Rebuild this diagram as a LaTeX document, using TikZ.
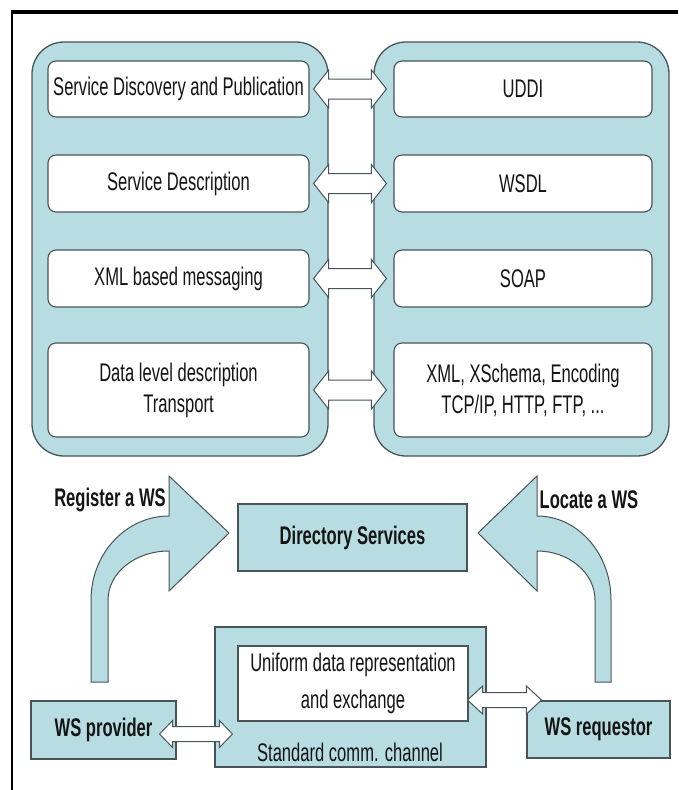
\documentclass[tikz,border=0pt]{standalone}
\usepackage{fontspec}
\setmainfont{Liberation Sans}[FakeStretch=0.65]
\usetikzlibrary{calc}

\definecolor{tealfill}{RGB}{183,221,226}
\definecolor{edgegray}{RGB}{72,84,88}
\definecolor{inkdark}{RGB}{20,20,20}

\tikzset{
  container/.style={draw=edgegray, line width=1.3pt, fill=tealfill, rounded corners=32pt, inner sep=0pt},
  layerbox/.style={draw=edgegray, line width=1.1pt, fill=white, rounded corners=8pt,
                   minimum height=56pt, text=inkdark, align=center, inner sep=0pt},
  plainbox/.style={draw=edgegray, line width=1.1pt, fill=tealfill, inner sep=0pt, text=inkdark, align=center},
  whitebox/.style={draw=edgegray, line width=1.1pt, fill=white, inner sep=0pt, text=inkdark, align=center},
  blockarrow/.style={draw=edgegray, line width=1pt, fill=white, line join=miter},
  bentarrow/.style={draw=edgegray, line width=1pt, fill=tealfill, line join=miter},
  txt/.style={text=inkdark, align=center, inner sep=0pt},
  boldtxt/.style={txt, font=\fontsize{25.5}{30}\selectfont\bfseries},
}

% double-headed block arrow between two named tip coordinates
% #3 head length, #4 head half-height, #5 shaft half-height
\newcommand\dblblock[5]{%
  \path[blockarrow] let \p1=(#1), \p2=(#2) in
    (\p1) -- ({\x1+#3pt},{\y1+#4pt}) -- ({\x1+#3pt},{\y1+#5pt})
    -- ({\x2-#3pt},{\y1+#5pt}) -- ({\x2-#3pt},{\y1+#4pt}) -- (\x2,\y1)
    -- ({\x2-#3pt},{\y1-#4pt}) -- ({\x2-#3pt},{\y1-#5pt})
    -- ({\x1+#3pt},{\y1-#5pt}) -- ({\x1+#3pt},{\y1-#4pt}) -- cycle;}

\begin{document}
\begin{tikzpicture}[x=1pt, y=-1pt, font=\fontsize{25.5}{31}\selectfont]
\useasboundingbox (0,0) rectangle (678,790);

% frame
\draw[line width=4pt] (10.5,11.5) -- (678,11.5);
\draw[line width=1.5pt] (12,10) -- (12,790);

% protocol stack containers
\node[container, minimum width=296pt, minimum height=414pt] (leftstack) at (180,249) {};
\node[container, minimum width=295pt, minimum height=414pt] (rightstack) at (521.5,249) {};

% layer boxes
\node[layerbox, minimum width=261pt] (l1) at (178.5,89) {Service Discovery and Publication};
\node[layerbox, minimum width=261pt, minimum height=57pt] (l2) at (178.5,183.5) {Service Description};
\node[layerbox, minimum width=261pt, minimum height=57pt] (l3) at (178.5,278.5) {XML based messaging};
\node[layerbox, minimum width=261pt, minimum height=94pt] (l4) at (178.5,390) {Data level description\\Transport};

\node[layerbox, minimum width=258pt] (r1) at (523,89) {UDDI};
\node[layerbox, minimum width=258pt, minimum height=57pt] (r2) at (523,183.5) {WSDL};
\node[layerbox, minimum width=258pt, minimum height=57pt] (r3) at (523,278.5) {SOAP};
\node[layerbox, minimum width=258pt, minimum height=94pt] (r4) at (523,390) {XML, XSchema, Encoding\\TCP/IP, HTTP, FTP, ...};

% links between the two stacks
\foreach \k in {1,2,3,4}{
  \coordinate (tl\k) at ($(l\k.east)+(4,0)$);
  \coordinate (tr\k) at ($(r\k.west)+(-7,0)$);
  \dblblock{tl\k}{tr\k}{15}{19}{10}
}

% directory and the parties
\node[plainbox, minimum width=229pt, minimum height=67pt, font=\fontsize{25.5}{30}\selectfont\bfseries] (dir) at (352.5,537.5) {Directory Services};

\node[plainbox, minimum width=271pt, minimum height=140pt] (channel) at (350.5,697) {};
\node[whitebox, minimum width=230pt, minimum height=75pt, font=\fontsize{25.5}{37}\selectfont] (uniform) at (353,683.5) {Uniform data representation\\and exchange};
\node[txt] (chanlabel) at (350,752) {Standard comm. channel};

\node[plainbox, minimum width=145pt, minimum height=58pt, font=\fontsize{25.5}{30}\selectfont\bfseries] (prov) at (103.5,730) {WS provider};
\node[plainbox, minimum width=143pt, minimum height=57pt, font=\fontsize{25.5}{30}\selectfont\bfseries] (req) at (598.5,729.5) {WS requestor};

% register / locate bent arrows
\path[bentarrow] (91,682) -- (91,600) .. controls (91,553.6) and (126,516) .. (169,516)
  -- (169,476) -- (229,533) -- (169,591) -- (169,551)
  .. controls (135,551) and (108,573) .. (108,600) -- (108,682) -- cycle;
\path[bentarrow] (611,682) -- (611,600) .. controls (611,553.6) and (578,516) .. (537,516)
  -- (537,476) -- (478,533) -- (537,591) -- (537,551)
  .. controls (569,551) and (595,573) .. (595,600) -- (595,682) -- cycle;

\node[boldtxt] (reglabel) at (110,500) {Register a WS};
\node[boldtxt] (loclabel) at (589,500) {Locate a WS};

% channel links
\coordinate (pl) at ($(prov.east)+(-17,4)$);
\coordinate (pr) at ($(channel.west)+(18,4)$);
\dblblock{pl}{pr}{13}{13.5}{7.5}
\coordinate (ql) at ($(channel.east)+(-19,3)$);
\coordinate (qr) at ($(req.west)+(15,3)$);
\dblblock{ql}{qr}{15}{14}{7.5}
\end{tikzpicture}
\end{document}
